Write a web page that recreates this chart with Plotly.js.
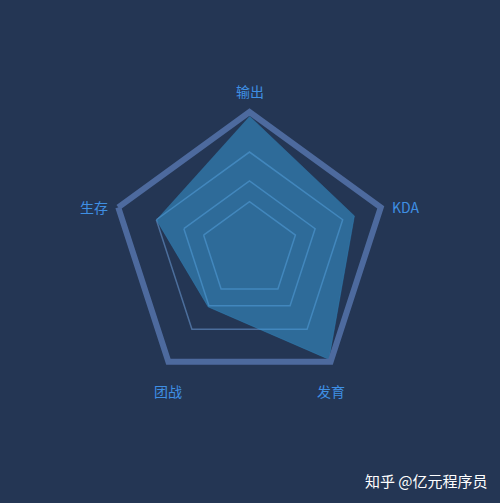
<!DOCTYPE html>
<html>
<head>
<meta charset="utf-8">
<script src="https://cdn.plot.ly/plotly-3.0.1.min.js"></script>
<style>
    html, body { margin: 0; padding: 0; background: #243654; }
    #radar { width: 500px; height: 503px; }
</style>
</head>
<body>
<div id="radar"></div>
<script>
// hero stats radar
const indicators = ['输出', 'KDA', '发育', '团战', '生存'];
const values = [97, 80, 98, 51, 71];
const gridLevels = [35, 50, 71];
const watermark = '知乎 @亿元程序员';

const bgColor = '#243654';
const labelColor = '#3f8fe3';

const radarDiv = document.getElementById('radar');

const W = 500, H = 503;
const domainX = [0.223, 0.775];
const domainY = [0.2286, 0.7773];

const trace = {
    type: 'scatterpolar',
    r: values,
    theta: indicators,
    mode: 'lines',
    fill: 'toself',
    fillcolor: 'rgba(56,160,222,0.5)',
    line: { color: 'rgba(56,160,222,0.5)', width: 0.5 },
    hoverinfo: 'skip',
    showlegend: false
};

/* indicator names sit outside the pentagon vertices, echarts style */
function getNameAnnotations() {
    const cx = (domainX[0] + domainX[1]) / 2;
    const cy = (domainY[0] + domainY[1]) / 2;
    const rx = (domainX[1] - domainX[0]) / 2;
    const ry = rx * W / H;
    const out = [];
    indicators.forEach((name, i) => {
        const a = (90 - i * 360 / indicators.length) * Math.PI / 180;
        const c = Math.cos(a), s = Math.sin(a);
        out.push({
            text: name,
            xref: 'paper', yref: 'paper',
            x: cx + rx * c, y: cy + ry * s,
            xanchor: 'center', yanchor: 'middle',
            xshift: c > 0.9 ? 25 : (c < -0.9 ? -24 : 0),
            yshift: s > 0.5 ? 21 : (s < -0.5 ? -29 : 0),
            showarrow: false,
            font: { color: labelColor, size: 14 }
        });
    });
    return out;
}

const layout = {
    width: W,
    height: H,
    margin: { l: 0, r: 0, t: 0, b: 0 },
    paper_bgcolor: bgColor,
    plot_bgcolor: bgColor,
    font: { family: 'Noto Sans CJK SC, sans-serif', color: labelColor, size: 14 },
    polar: {
        domain: { x: domainX, y: domainY },
        bgcolor: 'rgba(0,0,0,0)',
        gridshape: 'linear',
        radialaxis: {
            range: [0, 100],
            tickvals: gridLevels,
            showticklabels: false,
            ticks: '',
            showline: false,
            gridcolor: 'rgba(90,130,180,0.75)',
            gridwidth: 1.5
        },
        angularaxis: {
            categoryarray: indicators,
            direction: 'clockwise',
            rotation: 90,
            showgrid: false,
            showline: true,
            linecolor: '#4d6a9e',
            linewidth: 6,
            ticks: '',
            showticklabels: false
        }
    },
    annotations: getNameAnnotations().concat([{
        text: watermark,
        xref: 'paper', yref: 'paper',
        x: 0.98, y: 0.045,
        xanchor: 'right', yanchor: 'middle',
        showarrow: false,
        font: { color: '#ffffff', size: 15, family: 'Noto Sans CJK SC, sans-serif' }
    }])
};

Plotly.newPlot(radarDiv, [trace], layout, { displayModeBar: false, staticPlot: true });
</script>
</body>
</html>
